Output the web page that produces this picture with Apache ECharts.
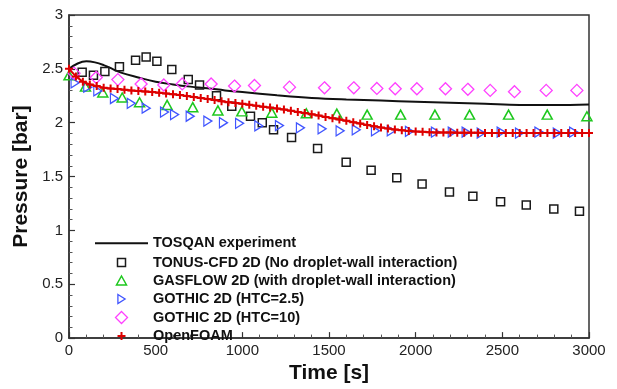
<!DOCTYPE html>
<html>
<head>
<meta charset="utf-8">
<script src="https://cdn.jsdelivr.net/npm/echarts@6/dist/echarts.min.js"></script>
<style>html,body{margin:0;padding:0;background:#fff;}#c{width:617px;height:389px;}</style>
</head>
<body>
<div id="c"></div>
<script>
// ---- data ----
const seriesNames = [
  'TOSQAN experiment',
  'TONUS-CFD 2D (No droplet-wall interaction)',
  'GASFLOW 2D (with droplet-wall interaction)',
  'GOTHIC 2D (HTC=2.5)',
  'GOTHIC 2D (HTC=10)',
  'OpenFOAM'
];
const xTicks = [0, 500, 1000, 1500, 2000, 2500, 3000];
const yTicks = [0, 0.5, 1, 1.5, 2, 2.5, 3];

const tosqanT = [0, 50, 100, 150, 200, 250, 300, 400, 500, 600, 700, 800, 900, 1000, 1200, 1400, 1600, 1800, 2000, 2200, 2400, 2600, 2800, 3000];
const tosqanP = [2.50, 2.55, 2.57, 2.56, 2.535, 2.50, 2.465, 2.42, 2.38, 2.355, 2.335, 2.32, 2.30, 2.285, 2.255, 2.23, 2.215, 2.205, 2.195, 2.185, 2.175, 2.165, 2.165, 2.17];

const tonusT = [76, 141, 207, 291, 384, 445, 507, 593, 688, 753, 851, 939, 1047, 1115, 1180, 1284, 1434, 1599, 1743, 1891, 2037, 2195, 2330, 2490, 2638, 2797, 2945];
const tonusP = [2.468, 2.44, 2.475, 2.52, 2.58, 2.61, 2.57, 2.495, 2.40, 2.35, 2.25, 2.153, 2.06, 2.0, 1.934, 1.862, 1.76, 1.633, 1.559, 1.49, 1.43, 1.357, 1.318, 1.267, 1.237, 1.198, 1.177];

const gasflowT = [0, 95, 195, 307, 407, 566, 714, 859, 997, 1170, 1369, 1545, 1720, 1913, 2111, 2311, 2536, 2759, 2988];
const gasflowP = [2.44, 2.335, 2.28, 2.234, 2.19, 2.165, 2.144, 2.114, 2.105, 2.093, 2.088, 2.084, 2.075, 2.075, 2.075, 2.075, 2.075, 2.075, 2.06];

const gothic25T = [35, 108, 166, 262, 359, 445, 551, 609, 699, 801, 891, 984, 1095, 1214, 1335, 1460, 1564, 1657, 1768, 1859, 1964, 2114, 2211, 2291, 2378, 2493, 2599, 2711, 2817, 2911];
const gothic25P = [2.37, 2.33, 2.295, 2.225, 2.18, 2.135, 2.099, 2.075, 2.06, 2.015, 2.0, 1.994, 1.97, 1.973, 1.952, 1.943, 1.925, 1.934, 1.925, 1.925, 1.92, 1.913, 1.913, 1.913, 1.904, 1.913, 1.904, 1.913, 1.904, 1.913];

const gothic10T = [29, 157, 282, 416, 547, 653, 820, 955, 1070, 1272, 1474, 1643, 1776, 1882, 2007, 2172, 2301, 2430, 2570, 2753, 2930];
const gothic10P = [2.46, 2.42, 2.40, 2.36, 2.35, 2.36, 2.36, 2.34, 2.345, 2.33, 2.324, 2.324, 2.318, 2.315, 2.315, 2.315, 2.31, 2.30, 2.288, 2.30, 2.30];

const foamT = [0, 40, 80, 120, 160, 200, 240, 280, 320, 360, 400, 440, 480, 520, 560, 600, 640, 680, 720, 760, 800, 840, 880, 920, 960, 1000, 1040, 1080, 1120, 1160, 1200, 1240, 1280, 1320, 1360, 1400, 1440, 1480, 1520, 1560, 1600, 1640, 1680, 1720, 1760, 1800, 1840, 1880, 1920, 1960, 2000, 2040, 2080, 2120, 2160, 2200, 2240, 2280, 2320, 2360, 2400, 2440, 2480, 2520, 2560, 2600, 2640, 2680, 2720, 2760, 2800, 2840, 2880, 2920, 2960, 3000];
const foamP = [2.50, 2.43, 2.38, 2.355, 2.34, 2.325, 2.318, 2.312, 2.307, 2.30, 2.295, 2.29, 2.284, 2.278, 2.272, 2.265, 2.258, 2.248, 2.238, 2.23, 2.22, 2.21, 2.20, 2.19, 2.183, 2.175, 2.167, 2.158, 2.149, 2.14, 2.131, 2.122, 2.112, 2.10, 2.09, 2.078, 2.066, 2.054, 2.042, 2.03, 2.018, 2.005, 1.992, 1.979, 1.967, 1.955, 1.945, 1.937, 1.93, 1.924, 1.919, 1.915, 1.912, 1.91, 1.909, 1.908, 1.907, 1.907, 1.906, 1.906, 1.905, 1.905, 1.905, 1.904, 1.904, 1.904, 1.904, 1.904, 1.904, 1.905, 1.905, 1.905, 1.905, 1.905, 1.905, 1.905];

// ---- build chart ----
const zip = (a, b) => a.map((v, i) => [v, b[i]]);
const SYM = {
  line: 'path://M0,0H53V2H0Z',
  square: 'path://M0,0H8V8H0Z',
  triangle: 'path://M5,0L10,9L0,9Z',
  rtri: 'path://M0,0L8,5L0,10Z',
  diamond: 'path://M6,0L12,6L6,12L0,6Z',
  plus: 'path://M3,0H5V3H8V5H5V8H3V5H0V3H3Z'
};
const FONT = 'Arial, "Liberation Sans", Helvetica, sans-serif';
const C = {
  line: '#111111', sq: '#1a1a1a', green: '#1ec81e', blue: '#4055ff', mag: '#ff40ff', red: '#dd0000'
};

const chart = echarts.init(document.getElementById('c'), null, { renderer: 'canvas' });

const iconCenterX = 121.5;
function legendAt(name, icon, centerY, itemHeight, iconW, stroke, extra) {
  return Object.assign({
    data: [{ name: name, icon: icon }],
    orient: 'vertical',
    left: iconCenterX - iconW / 2 - stroke / 2,
    top: centerY - 8,
    padding: 0,
    itemWidth: 53,
    itemHeight: itemHeight,
    symbolKeepAspect: true,
    selectedMode: false,
    textStyle: { fontFamily: FONT, fontSize: 14.5, fontWeight: 'bold', color: '#111', lineHeight: 16 }
  }, extra || {});
}

const rowCenters = [243.3, 262.5, 280.5, 299, 317.5, 336];

const option = {
  animation: false,
  backgroundColor: '#ffffff',
  grid: {
    left: 69, right: 28, top: 15, bottom: 41,
    show: true, borderColor: '#333', borderWidth: 1.5, backgroundColor: 'transparent'
  },
  xAxis: {
    type: 'value', min: xTicks[0], max: xTicks[xTicks.length - 1], interval: 500,
    name: 'Time [s]', nameLocation: 'middle', nameGap: 24,
    nameTextStyle: { fontFamily: FONT, fontSize: 21, fontWeight: 'bold', color: '#111' },
    axisLine: { show: true, lineStyle: { color: '#333', width: 1.5 } },
    axisTick: { show: true, inside: true, length: 6, lineStyle: { color: '#333', width: 1.2 } },
    minorTick: { show: true, splitNumber: 5, length: 3.5, lineStyle: { color: '#555', width: 1 } },
    splitLine: { show: false },
    axisLabel: { fontFamily: FONT, fontSize: 15, color: '#222', margin: 5,
      formatter: v => xTicks.includes(v) ? String(v) : '' }
  },
  yAxis: {
    type: 'value', min: yTicks[0], max: yTicks[yTicks.length - 1], interval: 0.5,
    name: 'Pressure [bar]', nameLocation: 'middle', nameGap: 28,
    nameTextStyle: { fontFamily: FONT, fontSize: 21, fontWeight: 'bold', color: '#111' },
    axisLine: { show: true, lineStyle: { color: '#333', width: 1.5 } },
    axisTick: { show: true, inside: true, length: 6, lineStyle: { color: '#333', width: 1.2 } },
    minorTick: { show: true, splitNumber: 5, length: 3.5, lineStyle: { color: '#555', width: 1 } },
    splitLine: { show: false },
    axisLabel: { fontFamily: FONT, fontSize: 15, color: '#222', margin: 6,
      formatter: v => yTicks.includes(v) ? String(v) : '' }
  },
  legend: [
    legendAt(seriesNames[0], SYM.line, rowCenters[0], 2, 53, 0, { itemStyle: { borderWidth: 0 } }),
    legendAt(seriesNames[1], SYM.square, rowCenters[1], 8, 8, 1.5, { itemStyle: { borderWidth: 1.5 } }),
    legendAt(seriesNames[2], SYM.triangle, rowCenters[2], 9, 10, 1.5, { itemStyle: { borderWidth: 1.5 } }),
    legendAt(seriesNames[3], SYM.rtri, rowCenters[3], 9, 7.2, 1.3, { itemStyle: { borderWidth: 1.3 } }),
    legendAt(seriesNames[4], SYM.diamond, rowCenters[4], 12, 12, 1.3, { itemStyle: { borderWidth: 1.3 } }),
    legendAt(seriesNames[5], SYM.plus, rowCenters[5], 8, 8, 0, { itemStyle: { borderWidth: 0 } })
  ],
  series: [
    {
      name: seriesNames[0], type: 'line', data: zip(tosqanT, tosqanP), smooth: 0.4,
      symbol: 'none', lineStyle: { color: C.line, width: 2 }, itemStyle: { color: C.line }, z: 2
    },
    {
      name: seriesNames[1], type: 'scatter', data: zip(tonusT, tonusP), symbol: SYM.square, symbolSize: 8,
      itemStyle: { color: 'transparent', borderColor: C.sq, borderWidth: 1.5, opacity: 1 }, z: 3
    },
    {
      name: seriesNames[2], type: 'scatter', data: zip(gasflowT, gasflowP), symbol: SYM.triangle, symbolSize: [10, 9],
      itemStyle: { color: 'transparent', borderColor: C.green, borderWidth: 1.5, opacity: 1 }, z: 3
    },
    {
      name: seriesNames[3], type: 'scatter', data: zip(gothic25T, gothic25P), symbol: SYM.rtri, symbolSize: [8, 10],
      itemStyle: { color: 'transparent', borderColor: C.blue, borderWidth: 1.3, opacity: 1 }, z: 3
    },
    {
      name: seriesNames[4], type: 'scatter', data: zip(gothic10T, gothic10P), symbol: SYM.diamond, symbolSize: 12,
      itemStyle: { color: 'transparent', borderColor: C.mag, borderWidth: 1.3, opacity: 1 }, z: 3
    },
    {
      name: seriesNames[5], type: 'line', data: zip(foamT, foamP), symbol: SYM.plus, symbolSize: 8, showSymbol: true,
      lineStyle: { color: C.red, width: 2 }, itemStyle: { color: C.red, borderWidth: 0 }, z: 4
    }
  ]
};
chart.setOption(option);
</script>
</body>
</html>
